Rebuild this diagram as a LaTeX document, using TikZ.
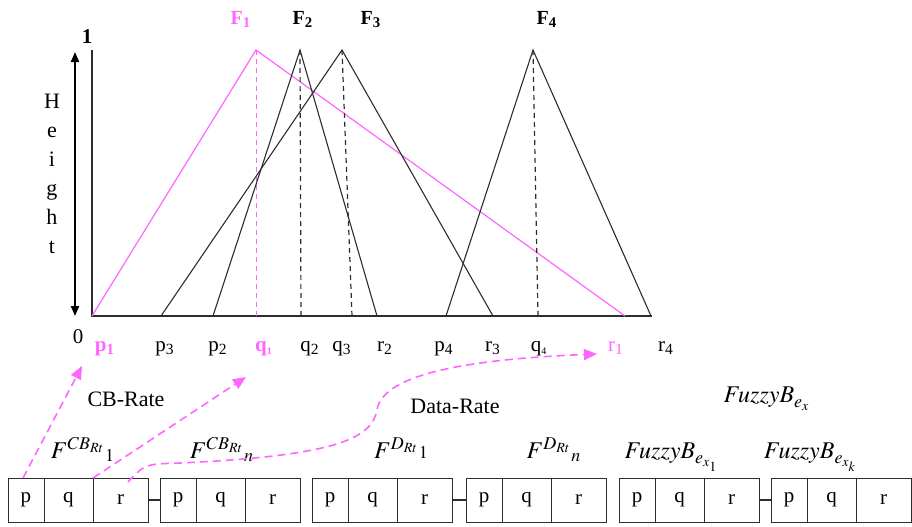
\documentclass[tikz,border=0pt]{standalone}
\usepackage{mathptmx}
\usepackage{fontspec}
\setmainfont{Liberation Serif}
\usetikzlibrary{arrows.meta,positioning}
\definecolor{fpink}{RGB}{255,102,255}
\definecolor{tline}{RGB}{45,45,45}

\begin{document}
\begin{tikzpicture}[x=0.5pt,y=-0.5pt,
  cell/.style={draw=tline,line width=0.5pt,minimum height=22pt,inner sep=0pt,outer sep=0pt,font=\fontsize{10.5}{10.5}\selectfont},
  tri/.style={draw=tline,line width=0.55pt},
  qdash/.style={draw=tline,line width=0.6pt,dash pattern=on 2.5pt off 2pt},
  pinkarrow/.style={draw=fpink,line width=0.8pt,dash pattern=on 4pt off 2.5pt,-{Triangle[length=6.5pt,width=5.5pt,fill=fpink]}},
  lab/.style={anchor=base,font=\fontsize{10.5}{10.5}\selectfont},
  flab/.style={anchor=base,font=\fontsize{10}{10}\selectfont\bfseries},
  blab/.style={anchor=base,font=\fontsize{12}{12}\selectfont}]
\useasboundingbox (0,0) rectangle (912,526);
% axes
\draw[tri] (92,50) -- (92,316) -- (652,316);
\draw[line width=1pt,{Triangle[length=5pt,width=4pt]}-{Triangle[length=5pt,width=4pt]}] (75,52) -- (75,316);
\node[lab,font=\fontsize{10.5}{10.5}\selectfont\bfseries] (one) at (87,43) {1};
\node[lab] (zero) at (78,343) {0};
\node[align=center,font=\fontsize{11}{14.5}\selectfont] (height) at (52,174) {H\\e\\i\\g\\h\\t};
% fuzzy numbers
\draw[fpink,line width=0.6pt] (92,316) -- (256,50) -- (625,316);
\draw[fpink,line width=0.5pt,dash pattern=on 2.5pt off 2pt] (256,50) -- (256,316);
\draw[tri] (213,316) -- (300,50) -- (377,316);\draw[qdash] (300,50) -- (301,316);
\draw[tri] (161,316) -- (342,50) -- (493,316);\draw[qdash] (342,50) -- (352,316);
\draw[tri] (446,316) -- (533,50) -- (651,316);\draw[qdash] (533,50) -- (538,316);
\node[flab,text=fpink] (F1) at (241,24) {F\textsubscript{1}};
\node[flab] (F2) at (303,24) {F\textsubscript{2}};
\node[flab] (F3) at (371,24) {F\textsubscript{3}};
\node[flab] (F4) at (547,24) {F\textsubscript{4}};
% points on the axis
\node[lab,text=fpink] (lp1) at (105,351) {\bfseries p\textsubscript{1}};
\node[lab] (lp3) at (165,351) {p\textsubscript{3}};
\node[lab] (lp2) at (218,351) {p\textsubscript{2}};
\node[lab,text=fpink] (lq1) at (264,351) {\bfseries q\textsubscript{\tiny 1}};
\node[lab] (lq2) at (310,351) {q\textsubscript{2}};
\node[lab] (lq3) at (342,351) {q\textsubscript{3}};
\node[lab] (lr2) at (385,351) {r\textsubscript{2}};
\node[lab] (lp4) at (444,351) {p\textsubscript{4}};
\node[lab] (lr3) at (493,351) {r\textsubscript{3}};
\node[lab] (lq4) at (539,351) {q\textsubscript{\tiny 4}};
\node[lab,text=fpink] (lr1) at (616,351) {r\textsubscript{1}};
\node[lab] (lr4) at (666,351) {r\textsubscript{4}};
% p q r blocks
\foreach \i/\x in {1/8,2/160,3/312,4/466,5/619,6/771}{
  \node[cell,minimum width=18pt,anchor=west] (cp\i) at (\x,500) {p};
  \node[cell,minimum width=24.5pt,right=0pt of cp\i] (cq\i) {q};
  \node[cell,minimum width=27.5pt,right=0pt of cq\i] (cr\i) {r};
}
\draw[tri] (cr1) -- (cp2);\draw[tri] (cr3) -- (cp4);\draw[tri] (cr5) -- (cp6);
\node[blab] (fcb1) at (83,458) {$F^{CB_{Rt}}{}_{1}$};
\node[blab] (fcbn) at (222,458) {$F^{CB_{Rt}}{}_{n}$};
\node[blab] (fd1) at (401,458) {$F^{D_{Rt}}{\scriptstyle 1}$};
\node[blab] (fdn) at (554,458) {$F^{D_{Rt}}{}_{n}$};
\node[blab] (fz1) at (672,458) {$\mathit{FuzzyB}_{e_{x_1}}$};
\node[blab] (fzk) at (811,458) {$\mathit{FuzzyB}_{e_{x_k}}$};
\node[blab] (fzx) at (767,402) {$\mathit{FuzzyB}_{e_x}$};
\node[lab,font=\fontsize{11}{11}\selectfont] (cbrate) at (126,406) {CB-Rate};
\node[lab,font=\fontsize{11}{11}\selectfont] (drate) at (455,413) {Data-Rate};
% mapping arrows
\draw[pinkarrow] ([xshift=-1.5pt]cp1.north) -- ([shift={(-11.5pt,-7.5pt)}]lp1.base);
\draw[pinkarrow] (cr1.north west) -- ([shift={(-9pt,-13pt)}]lq1.base);
\draw[pinkarrow] ([shift={(3.75pt,9pt)}]cr1.center) .. controls (145,464) .. (180,463)
  .. controls (330,456) and (372,440) .. (377,410)
  .. controls (382,378) and (450,360) .. ([shift={(-9.5pt,-1.5pt)}]lr1.base);
\end{tikzpicture}
\end{document}
